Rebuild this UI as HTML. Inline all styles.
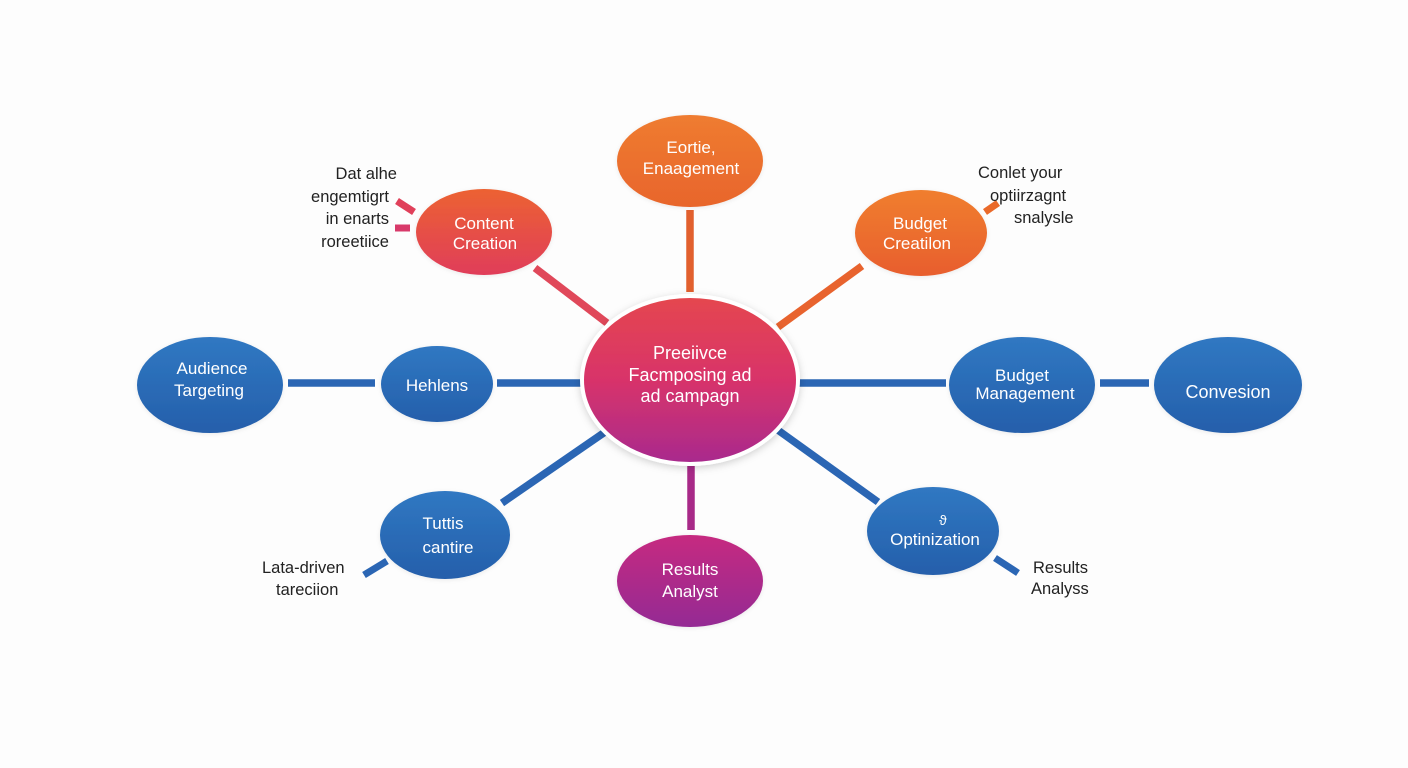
<!DOCTYPE html>
<html><head><meta charset="utf-8"><style>
html,body{margin:0;padding:0;background:#fdfdfd;}
svg{display:block;}
text{font-family:"Liberation Sans",sans-serif;}
.w{fill:#fff;font-size:17px;text-anchor:middle;}
.d{fill:#222;font-size:16.5px;}
</style></head><body>
<svg width="1408" height="768" viewBox="0 0 1408 768" xmlns="http://www.w3.org/2000/svg">
<defs>
<linearGradient id="gC" x1="0" y1="0" x2="0" y2="1">
<stop offset="0" stop-color="#e5474e"/><stop offset="0.5" stop-color="#d8336a"/><stop offset="1" stop-color="#a82a8e"/>
</linearGradient>
<linearGradient id="gCC" x1="0" y1="0" x2="0" y2="1">
<stop offset="0" stop-color="#ec6232"/><stop offset="1" stop-color="#e03d5a"/>
</linearGradient>
<linearGradient id="gEN" x1="0" y1="0" x2="0" y2="1">
<stop offset="0" stop-color="#ef7c30"/><stop offset="1" stop-color="#e8652c"/>
</linearGradient>
<linearGradient id="gBC" x1="0" y1="0" x2="0" y2="1">
<stop offset="0" stop-color="#f07e2e"/><stop offset="1" stop-color="#e85e2e"/>
</linearGradient>
<linearGradient id="gRA" x1="0" y1="0" x2="0" y2="1">
<stop offset="0" stop-color="#c62a80"/><stop offset="1" stop-color="#942a94"/>
</linearGradient>
<linearGradient id="gB" x1="0" y1="0" x2="0" y2="1">
<stop offset="0" stop-color="#3078c2"/><stop offset="1" stop-color="#255fab"/>
</linearGradient>
<filter id="sh" x="-30%" y="-30%" width="160%" height="160%">
<feDropShadow dx="0" dy="2" stdDeviation="4" flood-color="#000" flood-opacity="0.18"/>
</filter>
<filter id="sh2" x="-30%" y="-30%" width="160%" height="160%">
<feDropShadow dx="0" dy="1" stdDeviation="2" flood-color="#000" flood-opacity="0.08"/>
</filter>
</defs>
<rect width="1408" height="768" fill="#fdfdfd"/>

<!-- connectors -->
<g stroke-linecap="butt" fill="none">
<line x1="690" y1="210" x2="690" y2="292" stroke="#e2602e" stroke-width="7.5"/>
<line x1="535" y1="268" x2="607" y2="323" stroke="#e0485a" stroke-width="7.5"/>
<line x1="862" y1="266" x2="778" y2="327" stroke="#e8632e" stroke-width="7.5"/>
<line x1="288" y1="383" x2="375" y2="383" stroke="#2b66b4" stroke-width="7.5"/>
<line x1="497" y1="383" x2="583" y2="383" stroke="#2b66b4" stroke-width="7.5"/>
<line x1="797" y1="383" x2="946" y2="383" stroke="#2b66b4" stroke-width="7.5"/>
<line x1="1100" y1="383" x2="1149" y2="383" stroke="#2b66b4" stroke-width="7.5"/>
<line x1="605" y1="432" x2="502" y2="503" stroke="#2b66b4" stroke-width="7.5"/>
<line x1="775" y1="428" x2="878" y2="502" stroke="#2b66b4" stroke-width="7.5"/>
<line x1="691" y1="466" x2="691" y2="530" stroke="#a82a88" stroke-width="7.5"/>
<!-- small dashes -->
<line x1="397" y1="201" x2="414" y2="212" stroke="#e0405a" stroke-width="7"/>
<line x1="395" y1="228" x2="410" y2="228" stroke="#d83a6a" stroke-width="7"/>
<line x1="985" y1="212" x2="998" y2="203" stroke="#ea6a2a" stroke-width="7"/>
<line x1="364" y1="575" x2="387" y2="561" stroke="#2b66b4" stroke-width="7"/>
<line x1="995" y1="558" x2="1018" y2="573" stroke="#2b66b4" stroke-width="7"/>
</g>

<!-- nodes -->
<ellipse cx="690" cy="161" rx="73" ry="46" fill="url(#gEN)" filter="url(#sh2)"/>
<ellipse cx="484" cy="232" rx="68" ry="43" fill="url(#gCC)" filter="url(#sh2)"/>
<ellipse cx="921" cy="233" rx="66" ry="43" fill="url(#gBC)" filter="url(#sh2)"/>
<ellipse cx="210" cy="385" rx="73" ry="48" fill="url(#gB)" filter="url(#sh2)"/>
<ellipse cx="437" cy="384" rx="56" ry="38" fill="url(#gB)" filter="url(#sh2)"/>
<ellipse cx="1022" cy="385" rx="73" ry="48" fill="url(#gB)" filter="url(#sh2)"/>
<ellipse cx="1228" cy="385" rx="74" ry="48" fill="url(#gB)" filter="url(#sh2)"/>
<ellipse cx="445" cy="535" rx="65" ry="44" fill="url(#gB)" filter="url(#sh2)"/>
<ellipse cx="933" cy="531" rx="66" ry="44" fill="url(#gB)" filter="url(#sh2)"/>
<ellipse cx="690" cy="581" rx="73" ry="46" fill="url(#gRA)" filter="url(#sh2)"/>
<ellipse cx="690" cy="380" rx="108" ry="84" fill="url(#gC)" stroke="#fff" stroke-width="4" filter="url(#sh)"/>

<!-- node text -->
<text class="w" x="691" y="153">Eortie,</text>
<text class="w" x="691" y="174">Enaagement</text>
<text class="w" x="484" y="229">Content</text>
<text class="w" x="485" y="249">Creation</text>
<text class="w" x="920" y="229">Budget</text>
<text class="w" x="917" y="249">Creatilon</text>
<text class="w" x="212" y="374">Audience</text>
<text class="w" x="209" y="396">Targeting</text>
<text class="w" x="437" y="391">Hehlens</text>
<text class="w" x="1022" y="381">Budget</text>
<text class="w" x="1025" y="399">Management</text>
<text class="w" x="1228" y="398" style="font-size:18px">Convesion</text>
<text class="w" x="443" y="529">Tuttis</text>
<text class="w" x="448" y="553">cantire</text>
<text class="w" x="943" y="525" style="font-size:14px">ϑ</text>
<text class="w" x="935" y="545">Optinization</text>
<text class="w" x="690" y="575">Results</text>
<text class="w" x="690" y="597">Analyst</text>
<text class="w" x="690" y="359" style="font-size:18px">Preeiivce</text>
<text class="w" x="690" y="381" style="font-size:18px">Facmposing ad</text>
<text class="w" x="690" y="402" style="font-size:18px">ad campagn</text>

<!-- labels -->
<text class="d" x="397" y="179" text-anchor="end">Dat alhe</text>
<text class="d" x="389" y="202" text-anchor="end">engemtigrt</text>
<text class="d" x="389" y="224" text-anchor="end">in enarts</text>
<text class="d" x="389" y="247" text-anchor="end">roreetiice</text>
<text class="d" x="978" y="178">Conlet your</text>
<text class="d" x="990" y="201">optiirzagnt</text>
<text class="d" x="1014" y="223">snalysle</text>
<text class="d" x="262" y="573">Lata-driven</text>
<text class="d" x="276" y="595">tareciion</text>
<text class="d" x="1033" y="573">Results</text>
<text class="d" x="1031" y="594">Analyss</text>
</svg>
</body></html>
